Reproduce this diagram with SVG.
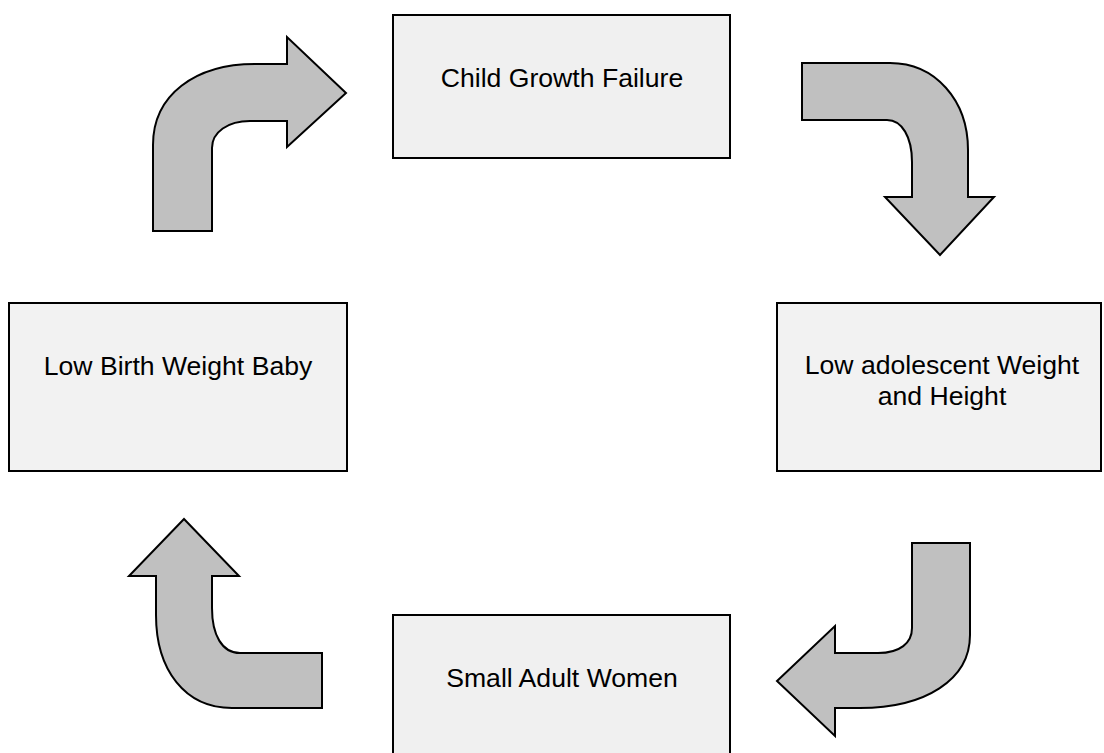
<svg xmlns="http://www.w3.org/2000/svg" width="1104" height="753" viewBox="0 0 1104 753">
<style>
.box{stroke:#000;stroke-width:2}
.lbl{font-family:"Liberation Sans",Arial,sans-serif;font-size:26.6px;fill:#000;text-anchor:middle}
.arr{fill:#c0c0c0;stroke:#000;stroke-width:2;stroke-linejoin:miter}
</style>
<rect width="1104" height="753" fill="#fff"/>
<g id="connectors">
<path id="a1" class="arr" d="M153,231 L153,145 C153,95 195,64 255,64 L287,64 L287,37 L346,93 L287,147 L287,121 L250,121 C228,121 212,132 212,148 L212,231 Z"/>
<path id="a2" class="arr" d="M802,63 L890,63 C935,63 968,100 968,150 L968,197 L994,197 L940,255 L885,197 L912,197 L912,162 C912,137 902,120 887,120 L802,120 Z"/>
<path id="a3" class="arr" d="M912,543 L970,543 L970,635 C970,680 925,708 860,708 L835,708 L835,736 L777,681 L835,626 L835,653 L878,653 C900,653 912,643 912,628 Z"/>
<path id="a4" class="arr" d="M184,519 L239,576 L212,576 L212,608 C212,635 222,653 240,653 L322,653 L322,708 L232,708 C185,708 156,670 156,615 L156,576 L129,576 Z"/>
</g>
<g id="n1">
<rect class="box" x="393" y="15" width="337" height="143" fill="#f0f0f0"/>
<text class="lbl" x="562" y="87">Child Growth Failure</text>
</g>
<g id="n2">
<rect class="box" x="777" y="303" width="324" height="168" fill="#f2f2f2"/>
<text class="lbl" x="942" y="374">Low adolescent Weight</text>
<text class="lbl" x="942" y="405">and Height</text>
</g>
<g id="n3">
<rect class="box" x="393" y="615" width="337" height="150" fill="#f0f0f0"/>
<text class="lbl" x="562" y="687">Small Adult Women</text>
</g>
<g id="n4">
<rect class="box" x="9" y="303" width="338" height="168" fill="#f2f2f2"/>
<text class="lbl" x="178" y="375">Low Birth Weight Baby</text>
</g>
</svg>
